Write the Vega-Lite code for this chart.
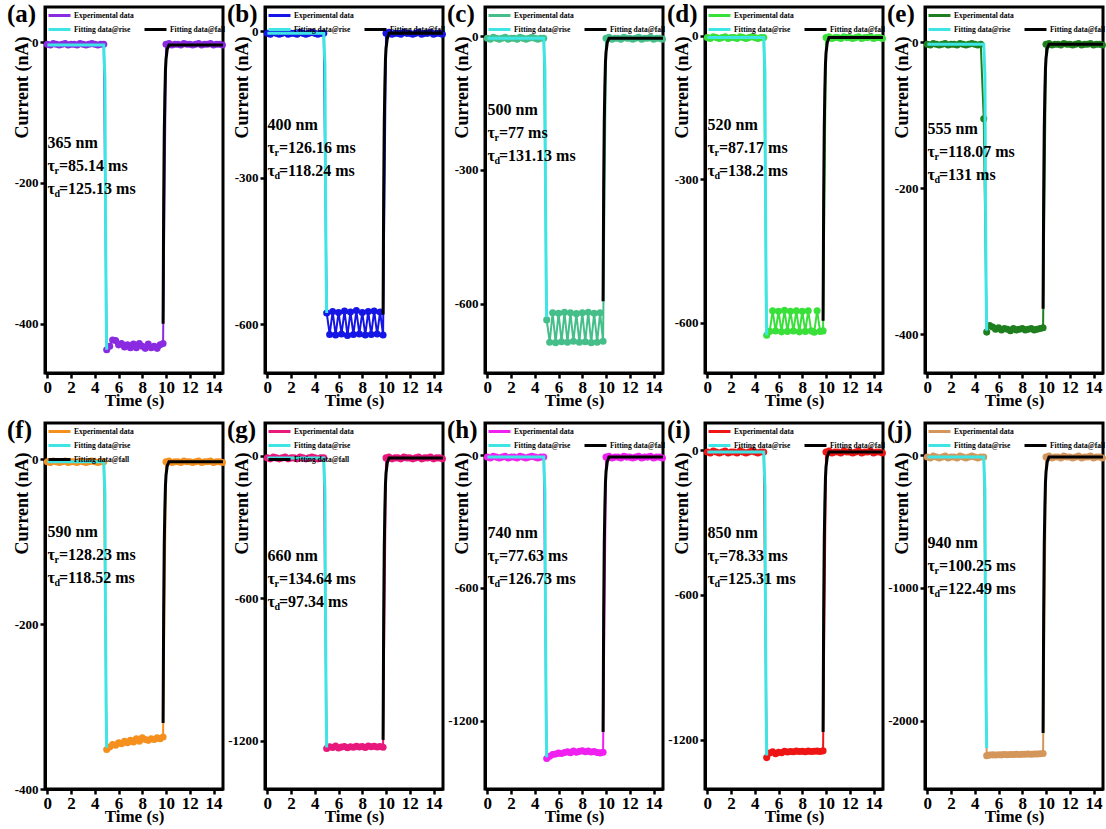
{
"$schema":"https://vega.github.io/schema/vega-lite/v6.json",
"background":"white",
"padding":{"left":5,"top":0,"right":0,"bottom":0},
"config":{
 "view":{"stroke":"black","strokeWidth":3},
 "font":"Liberation Serif",
 "axis":{"grid":false,"domainColor":"black","domainWidth":3,"tickColor":"black","tickWidth":2.5,"tickSize":5,"labelFont":"Liberation Serif","labelFontWeight":"bold","labelColor":"black","titleFont":"Liberation Serif","titleFontWeight":"bold","titleColor":"black"},
 "axisX":{"labelFontSize":17,"titleFontSize":17,"labelPadding":1,"titlePadding":-3,"labelFlush":false},
 "axisY":{"labelFontSize":13,"titleFontSize":18,"labelPadding":2,"titleX":-14,"titleY":80,"titleAngle":-90,"titleAlign":"center","titleBaseline":"bottom","labelExpr":"'' + datum.value"},
 "legend":{"orient":"none","legendX":9,"legendY":3,"padding":0,"gridAlign":"none","labelFont":"Liberation Serif","labelFontWeight":"bold","labelFontSize":7.5,"labelColor":"black","symbolType":"M-2.75,0H2.75","symbolSize":64,"symbolStrokeWidth":3,"rowPadding":1,"columnPadding":4,"labelOffset":9},
 "title":{"anchor":"start","frame":"group","font":"Liberation Serif","fontWeight":"bold","fontSize":25,"baseline":"top","offset":0,"dy":24,"dx":-38,"color":"black"},
 "line":{"strokeWidth":3},
 "point":{"filled":true,"size":50,"opacity":1},
 "text":{"font":"Liberation Serif","fontWeight":"bold","align":"left","baseline":"top","fill":"black","opacity":1}
},
"datasets":{
"exp":[
{"p":"a","t":0,"v":-3},{"p":"a","t":0.25,"v":-4},{"p":"a","t":0.5,"v":-2},{"p":"a","t":0.75,"v":-3},{"p":"a","t":1,"v":-4},{"p":"a","t":1.25,"v":-3},{"p":"a","t":1.5,"v":-2},{"p":"a","t":1.75,"v":-4},{"p":"a","t":2,"v":-3},{"p":"a","t":2.25,"v":-3},{"p":"a","t":2.5,"v":-4},{"p":"a","t":2.75,"v":-2},{"p":"a","t":3,"v":-3},{"p":"a","t":3.25,"v":-4},{"p":"a","t":3.5,"v":-3},{"p":"a","t":3.75,"v":-2},{"p":"a","t":4,"v":-3},{"p":"a","t":4.25,"v":-4},{"p":"a","t":4.5,"v":-3},{"p":"a","t":4.75,"v":-3},
{"p":"a","t":5,"v":-437},{"p":"a","t":5.25,"v":-432},{"p":"a","t":5.5,"v":-423},{"p":"a","t":5.75,"v":-424},{"p":"a","t":6,"v":-430},{"p":"a","t":6.25,"v":-428},{"p":"a","t":6.5,"v":-433},{"p":"a","t":6.75,"v":-430},{"p":"a","t":7,"v":-434},{"p":"a","t":7.25,"v":-429},{"p":"a","t":7.5,"v":-434},{"p":"a","t":7.75,"v":-428},{"p":"a","t":8,"v":-432},{"p":"a","t":8.25,"v":-435},{"p":"a","t":8.5,"v":-429},{"p":"a","t":8.75,"v":-434},{"p":"a","t":9,"v":-432},{"p":"a","t":9.25,"v":-435},{"p":"a","t":9.5,"v":-430},{"p":"a","t":9.75,"v":-428},
{"p":"a","t":10,"v":-3},{"p":"a","t":10.25,"v":-2},{"p":"a","t":10.5,"v":-4},{"p":"a","t":10.75,"v":-3},{"p":"a","t":11,"v":-3},{"p":"a","t":11.25,"v":-4},{"p":"a","t":11.5,"v":-2},{"p":"a","t":11.75,"v":-3},{"p":"a","t":12,"v":-3},{"p":"a","t":12.25,"v":-4},{"p":"a","t":12.5,"v":-3},{"p":"a","t":12.75,"v":-2},{"p":"a","t":13,"v":-4},{"p":"a","t":13.25,"v":-3},{"p":"a","t":13.5,"v":-3},{"p":"a","t":13.75,"v":-2},{"p":"a","t":14,"v":-4},{"p":"a","t":14.25,"v":-3},{"p":"a","t":14.5,"v":-3},{"p":"a","t":14.75,"v":-4},

{"p":"b","t":0,"v":-4},{"p":"b","t":0.25,"v":-6},{"p":"b","t":0.5,"v":-2},{"p":"b","t":0.75,"v":-4},{"p":"b","t":1,"v":-6},{"p":"b","t":1.25,"v":-4},{"p":"b","t":1.5,"v":-2},{"p":"b","t":1.75,"v":-6},{"p":"b","t":2,"v":-4},{"p":"b","t":2.25,"v":-4},{"p":"b","t":2.5,"v":-6},{"p":"b","t":2.75,"v":-2},{"p":"b","t":3,"v":-4},{"p":"b","t":3.25,"v":-6},{"p":"b","t":3.5,"v":-4},{"p":"b","t":3.75,"v":-2},{"p":"b","t":4,"v":-4},{"p":"b","t":4.25,"v":-6},{"p":"b","t":4.5,"v":-4},{"p":"b","t":4.75,"v":-4},
{"p":"b","t":5,"v":-577},{"p":"b","t":5.25,"v":-621},{"p":"b","t":5.5,"v":-574},{"p":"b","t":5.75,"v":-622},{"p":"b","t":6,"v":-576},{"p":"b","t":6.25,"v":-620},{"p":"b","t":6.5,"v":-573},{"p":"b","t":6.75,"v":-623},{"p":"b","t":7,"v":-575},{"p":"b","t":7.25,"v":-621},{"p":"b","t":7.5,"v":-572},{"p":"b","t":7.75,"v":-620},{"p":"b","t":8,"v":-576},{"p":"b","t":8.25,"v":-622},{"p":"b","t":8.5,"v":-574},{"p":"b","t":8.75,"v":-621},{"p":"b","t":9,"v":-573},{"p":"b","t":9.25,"v":-620},{"p":"b","t":9.5,"v":-575},{"p":"b","t":9.75,"v":-622},
{"p":"b","t":10,"v":-4},{"p":"b","t":10.25,"v":-2},{"p":"b","t":10.5,"v":-6},{"p":"b","t":10.75,"v":-4},{"p":"b","t":11,"v":-4},{"p":"b","t":11.25,"v":-6},{"p":"b","t":11.5,"v":-2},{"p":"b","t":11.75,"v":-4},{"p":"b","t":12,"v":-4},{"p":"b","t":12.25,"v":-6},{"p":"b","t":12.5,"v":-4},{"p":"b","t":12.75,"v":-2},{"p":"b","t":13,"v":-6},{"p":"b","t":13.25,"v":-4},{"p":"b","t":13.5,"v":-4},{"p":"b","t":13.75,"v":-2},{"p":"b","t":14,"v":-6},{"p":"b","t":14.25,"v":-4},{"p":"b","t":14.5,"v":-4},{"p":"b","t":14.75,"v":-6},

{"p":"c","t":0,"v":-5},{"p":"c","t":0.25,"v":-7},{"p":"c","t":0.5,"v":-3},{"p":"c","t":0.75,"v":-5},{"p":"c","t":1,"v":-7},{"p":"c","t":1.25,"v":-5},{"p":"c","t":1.5,"v":-3},{"p":"c","t":1.75,"v":-7},{"p":"c","t":2,"v":-5},{"p":"c","t":2.25,"v":-5},{"p":"c","t":2.5,"v":-7},{"p":"c","t":2.75,"v":-3},{"p":"c","t":3,"v":-5},{"p":"c","t":3.25,"v":-7},{"p":"c","t":3.5,"v":-5},{"p":"c","t":3.75,"v":-3},{"p":"c","t":4,"v":-5},{"p":"c","t":4.25,"v":-7},{"p":"c","t":4.5,"v":-5},{"p":"c","t":4.75,"v":-5},
{"p":"c","t":5,"v":-636},{"p":"c","t":5.25,"v":-686},{"p":"c","t":5.5,"v":-620},{"p":"c","t":5.75,"v":-687},{"p":"c","t":6,"v":-621},{"p":"c","t":6.25,"v":-685},{"p":"c","t":6.5,"v":-619},{"p":"c","t":6.75,"v":-686},{"p":"c","t":7,"v":-620},{"p":"c","t":7.25,"v":-684},{"p":"c","t":7.5,"v":-622},{"p":"c","t":7.75,"v":-686},{"p":"c","t":8,"v":-620},{"p":"c","t":8.25,"v":-685},{"p":"c","t":8.5,"v":-619},{"p":"c","t":8.75,"v":-687},{"p":"c","t":9,"v":-621},{"p":"c","t":9.25,"v":-686},{"p":"c","t":9.5,"v":-620},{"p":"c","t":9.75,"v":-684},
{"p":"c","t":10,"v":-5},{"p":"c","t":10.25,"v":-3},{"p":"c","t":10.5,"v":-7},{"p":"c","t":10.75,"v":-5},{"p":"c","t":11,"v":-5},{"p":"c","t":11.25,"v":-7},{"p":"c","t":11.5,"v":-3},{"p":"c","t":11.75,"v":-5},{"p":"c","t":12,"v":-5},{"p":"c","t":12.25,"v":-7},{"p":"c","t":12.5,"v":-5},{"p":"c","t":12.75,"v":-3},{"p":"c","t":13,"v":-7},{"p":"c","t":13.25,"v":-5},{"p":"c","t":13.5,"v":-5},{"p":"c","t":13.75,"v":-3},{"p":"c","t":14,"v":-7},{"p":"c","t":14.25,"v":-5},{"p":"c","t":14.5,"v":-5},{"p":"c","t":14.75,"v":-7},

{"p":"d","t":0,"v":-4},{"p":"d","t":0.25,"v":-6},{"p":"d","t":0.5,"v":-2},{"p":"d","t":0.75,"v":-4},{"p":"d","t":1,"v":-6},{"p":"d","t":1.25,"v":-4},{"p":"d","t":1.5,"v":-2},{"p":"d","t":1.75,"v":-6},{"p":"d","t":2,"v":-4},{"p":"d","t":2.25,"v":-4},{"p":"d","t":2.5,"v":-6},{"p":"d","t":2.75,"v":-2},{"p":"d","t":3,"v":-4},{"p":"d","t":3.25,"v":-6},{"p":"d","t":3.5,"v":-4},{"p":"d","t":3.75,"v":-2},{"p":"d","t":4,"v":-4},{"p":"d","t":4.25,"v":-6},{"p":"d","t":4.5,"v":-4},{"p":"d","t":4.75,"v":-4},
{"p":"d","t":5,"v":-626},{"p":"d","t":5.25,"v":-618},{"p":"d","t":5.5,"v":-575},{"p":"d","t":5.75,"v":-617},{"p":"d","t":6,"v":-576},{"p":"d","t":6.25,"v":-619},{"p":"d","t":6.5,"v":-574},{"p":"d","t":6.75,"v":-618},{"p":"d","t":7,"v":-576},{"p":"d","t":7.25,"v":-617},{"p":"d","t":7.5,"v":-575},{"p":"d","t":7.75,"v":-619},{"p":"d","t":8,"v":-576},{"p":"d","t":8.25,"v":-618},{"p":"d","t":8.5,"v":-575},{"p":"d","t":8.75,"v":-617},{"p":"d","t":9,"v":-620},{"p":"d","t":9.25,"v":-575},{"p":"d","t":9.5,"v":-618},{"p":"d","t":9.75,"v":-617},
{"p":"d","t":10,"v":-4},{"p":"d","t":10.25,"v":-2},{"p":"d","t":10.5,"v":-6},{"p":"d","t":10.75,"v":-4},{"p":"d","t":11,"v":-4},{"p":"d","t":11.25,"v":-6},{"p":"d","t":11.5,"v":-2},{"p":"d","t":11.75,"v":-4},{"p":"d","t":12,"v":-4},{"p":"d","t":12.25,"v":-6},{"p":"d","t":12.5,"v":-4},{"p":"d","t":12.75,"v":-2},{"p":"d","t":13,"v":-6},{"p":"d","t":13.25,"v":-4},{"p":"d","t":13.5,"v":-4},{"p":"d","t":13.75,"v":-2},{"p":"d","t":14,"v":-6},{"p":"d","t":14.25,"v":-4},{"p":"d","t":14.5,"v":-4},{"p":"d","t":14.75,"v":-6},

{"p":"e","t":0,"v":-3},{"p":"e","t":0.25,"v":-4},{"p":"e","t":0.5,"v":-2},{"p":"e","t":0.75,"v":-3},{"p":"e","t":1,"v":-4},{"p":"e","t":1.25,"v":-3},{"p":"e","t":1.5,"v":-2},{"p":"e","t":1.75,"v":-4},{"p":"e","t":2,"v":-3},{"p":"e","t":2.25,"v":-3},{"p":"e","t":2.5,"v":-4},{"p":"e","t":2.75,"v":-2},{"p":"e","t":3,"v":-3},{"p":"e","t":3.25,"v":-4},{"p":"e","t":3.5,"v":-3},{"p":"e","t":3.75,"v":-2},{"p":"e","t":4,"v":-3},{"p":"e","t":4.25,"v":-4},{"p":"e","t":4.5,"v":-3},{"p":"e","t":4.75,"v":-105},
{"p":"e","t":5,"v":-397},{"p":"e","t":5.25,"v":-388},{"p":"e","t":5.5,"v":-390},{"p":"e","t":5.75,"v":-393},{"p":"e","t":6,"v":-391},{"p":"e","t":6.25,"v":-394},{"p":"e","t":6.5,"v":-392},{"p":"e","t":6.75,"v":-393},{"p":"e","t":7,"v":-395},{"p":"e","t":7.25,"v":-392},{"p":"e","t":7.5,"v":-394},{"p":"e","t":7.75,"v":-393},{"p":"e","t":8,"v":-392},{"p":"e","t":8.25,"v":-394},{"p":"e","t":8.5,"v":-393},{"p":"e","t":8.75,"v":-392},{"p":"e","t":9,"v":-394},{"p":"e","t":9.25,"v":-393},{"p":"e","t":9.5,"v":-392},{"p":"e","t":9.75,"v":-391},
{"p":"e","t":10,"v":-3},{"p":"e","t":10.25,"v":-2},{"p":"e","t":10.5,"v":-4},{"p":"e","t":10.75,"v":-3},{"p":"e","t":11,"v":-3},{"p":"e","t":11.25,"v":-4},{"p":"e","t":11.5,"v":-2},{"p":"e","t":11.75,"v":-3},{"p":"e","t":12,"v":-3},{"p":"e","t":12.25,"v":-4},{"p":"e","t":12.5,"v":-3},{"p":"e","t":12.75,"v":-2},{"p":"e","t":13,"v":-4},{"p":"e","t":13.25,"v":-3},{"p":"e","t":13.5,"v":-3},{"p":"e","t":13.75,"v":-2},{"p":"e","t":14,"v":-4},{"p":"e","t":14.25,"v":-3},{"p":"e","t":14.5,"v":-3},{"p":"e","t":14.75,"v":-4},

{"p":"f","t":0,"v":-3},{"p":"f","t":0.25,"v":-4},{"p":"f","t":0.5,"v":-2},{"p":"f","t":0.75,"v":-3},{"p":"f","t":1,"v":-4},{"p":"f","t":1.25,"v":-3},{"p":"f","t":1.5,"v":-2},{"p":"f","t":1.75,"v":-4},{"p":"f","t":2,"v":-3},{"p":"f","t":2.25,"v":-3},{"p":"f","t":2.5,"v":-4},{"p":"f","t":2.75,"v":-2},{"p":"f","t":3,"v":-3},{"p":"f","t":3.25,"v":-4},{"p":"f","t":3.5,"v":-3},{"p":"f","t":3.75,"v":-2},{"p":"f","t":4,"v":-3},{"p":"f","t":4.25,"v":-4},{"p":"f","t":4.5,"v":-3},{"p":"f","t":4.75,"v":-3},
{"p":"f","t":5,"v":-352},{"p":"f","t":5.25,"v":-349},{"p":"f","t":5.5,"v":-346},{"p":"f","t":5.75,"v":-347},{"p":"f","t":6,"v":-344},{"p":"f","t":6.25,"v":-345},{"p":"f","t":6.5,"v":-342},{"p":"f","t":6.75,"v":-344},{"p":"f","t":7,"v":-341},{"p":"f","t":7.25,"v":-343},{"p":"f","t":7.5,"v":-339},{"p":"f","t":7.75,"v":-342},{"p":"f","t":8,"v":-338},{"p":"f","t":8.25,"v":-340},{"p":"f","t":8.5,"v":-341},{"p":"f","t":8.75,"v":-339},{"p":"f","t":9,"v":-340},{"p":"f","t":9.25,"v":-338},{"p":"f","t":9.5,"v":-339},{"p":"f","t":9.75,"v":-337},
{"p":"f","t":10,"v":-3},{"p":"f","t":10.25,"v":-2},{"p":"f","t":10.5,"v":-4},{"p":"f","t":10.75,"v":-3},{"p":"f","t":11,"v":-3},{"p":"f","t":11.25,"v":-4},{"p":"f","t":11.5,"v":-2},{"p":"f","t":11.75,"v":-3},{"p":"f","t":12,"v":-3},{"p":"f","t":12.25,"v":-4},{"p":"f","t":12.5,"v":-3},{"p":"f","t":12.75,"v":-2},{"p":"f","t":13,"v":-4},{"p":"f","t":13.25,"v":-3},{"p":"f","t":13.5,"v":-3},{"p":"f","t":13.75,"v":-2},{"p":"f","t":14,"v":-4},{"p":"f","t":14.25,"v":-3},{"p":"f","t":14.5,"v":-3},{"p":"f","t":14.75,"v":-4},

{"p":"g","t":0,"v":-8},{"p":"g","t":0.25,"v":-12},{"p":"g","t":0.5,"v":-4},{"p":"g","t":0.75,"v":-8},{"p":"g","t":1,"v":-12},{"p":"g","t":1.25,"v":-8},{"p":"g","t":1.5,"v":-4},{"p":"g","t":1.75,"v":-12},{"p":"g","t":2,"v":-8},{"p":"g","t":2.25,"v":-8},{"p":"g","t":2.5,"v":-12},{"p":"g","t":2.75,"v":-4},{"p":"g","t":3,"v":-8},{"p":"g","t":3.25,"v":-12},{"p":"g","t":3.5,"v":-8},{"p":"g","t":3.75,"v":-4},{"p":"g","t":4,"v":-8},{"p":"g","t":4.25,"v":-12},{"p":"g","t":4.5,"v":-8},{"p":"g","t":4.75,"v":-8},
{"p":"g","t":5,"v":-1232},{"p":"g","t":5.25,"v":-1225},{"p":"g","t":5.5,"v":-1228},{"p":"g","t":5.75,"v":-1222},{"p":"g","t":6,"v":-1230},{"p":"g","t":6.25,"v":-1226},{"p":"g","t":6.5,"v":-1224},{"p":"g","t":6.75,"v":-1229},{"p":"g","t":7,"v":-1225},{"p":"g","t":7.25,"v":-1227},{"p":"g","t":7.5,"v":-1223},{"p":"g","t":7.75,"v":-1226},{"p":"g","t":8,"v":-1224},{"p":"g","t":8.25,"v":-1228},{"p":"g","t":8.5,"v":-1222},{"p":"g","t":8.75,"v":-1225},{"p":"g","t":9,"v":-1223},{"p":"g","t":9.25,"v":-1226},{"p":"g","t":9.5,"v":-1224},{"p":"g","t":9.75,"v":-1227},
{"p":"g","t":10,"v":-8},{"p":"g","t":10.25,"v":-4},{"p":"g","t":10.5,"v":-12},{"p":"g","t":10.75,"v":-8},{"p":"g","t":11,"v":-8},{"p":"g","t":11.25,"v":-12},{"p":"g","t":11.5,"v":-4},{"p":"g","t":11.75,"v":-8},{"p":"g","t":12,"v":-8},{"p":"g","t":12.25,"v":-12},{"p":"g","t":12.5,"v":-8},{"p":"g","t":12.75,"v":-4},{"p":"g","t":13,"v":-12},{"p":"g","t":13.25,"v":-8},{"p":"g","t":13.5,"v":-8},{"p":"g","t":13.75,"v":-4},{"p":"g","t":14,"v":-12},{"p":"g","t":14.25,"v":-8},{"p":"g","t":14.5,"v":-8},{"p":"g","t":14.75,"v":-12},

{"p":"h","t":0,"v":-9},{"p":"h","t":0.25,"v":-13},{"p":"h","t":0.5,"v":-5},{"p":"h","t":0.75,"v":-9},{"p":"h","t":1,"v":-13},{"p":"h","t":1.25,"v":-9},{"p":"h","t":1.5,"v":-5},{"p":"h","t":1.75,"v":-13},{"p":"h","t":2,"v":-9},{"p":"h","t":2.25,"v":-9},{"p":"h","t":2.5,"v":-13},{"p":"h","t":2.75,"v":-5},{"p":"h","t":3,"v":-9},{"p":"h","t":3.25,"v":-13},{"p":"h","t":3.5,"v":-9},{"p":"h","t":3.75,"v":-5},{"p":"h","t":4,"v":-9},{"p":"h","t":4.25,"v":-13},{"p":"h","t":4.5,"v":-9},{"p":"h","t":4.75,"v":-9},
{"p":"h","t":5,"v":-1370},{"p":"h","t":5.25,"v":-1360},{"p":"h","t":5.5,"v":-1352},{"p":"h","t":5.75,"v":-1350},{"p":"h","t":6,"v":-1346},{"p":"h","t":6.25,"v":-1348},{"p":"h","t":6.5,"v":-1343},{"p":"h","t":6.75,"v":-1340},{"p":"h","t":7,"v":-1344},{"p":"h","t":7.25,"v":-1336},{"p":"h","t":7.5,"v":-1342},{"p":"h","t":7.75,"v":-1338},{"p":"h","t":8,"v":-1335},{"p":"h","t":8.25,"v":-1340},{"p":"h","t":8.5,"v":-1337},{"p":"h","t":8.75,"v":-1341},{"p":"h","t":9,"v":-1339},{"p":"h","t":9.25,"v":-1343},{"p":"h","t":9.5,"v":-1345},{"p":"h","t":9.75,"v":-1342},
{"p":"h","t":10,"v":-9},{"p":"h","t":10.25,"v":-5},{"p":"h","t":10.5,"v":-13},{"p":"h","t":10.75,"v":-9},{"p":"h","t":11,"v":-9},{"p":"h","t":11.25,"v":-13},{"p":"h","t":11.5,"v":-5},{"p":"h","t":11.75,"v":-9},{"p":"h","t":12,"v":-9},{"p":"h","t":12.25,"v":-13},{"p":"h","t":12.5,"v":-9},{"p":"h","t":12.75,"v":-5},{"p":"h","t":13,"v":-13},{"p":"h","t":13.25,"v":-9},{"p":"h","t":13.5,"v":-9},{"p":"h","t":13.75,"v":-5},{"p":"h","t":14,"v":-13},{"p":"h","t":14.25,"v":-9},{"p":"h","t":14.5,"v":-9},{"p":"h","t":14.75,"v":-13},

{"p":"i","t":0,"v":-8},{"p":"i","t":0.25,"v":-12},{"p":"i","t":0.5,"v":-4},{"p":"i","t":0.75,"v":-8},{"p":"i","t":1,"v":-12},{"p":"i","t":1.25,"v":-8},{"p":"i","t":1.5,"v":-4},{"p":"i","t":1.75,"v":-12},{"p":"i","t":2,"v":-8},{"p":"i","t":2.25,"v":-8},{"p":"i","t":2.5,"v":-12},{"p":"i","t":2.75,"v":-4},{"p":"i","t":3,"v":-8},{"p":"i","t":3.25,"v":-12},{"p":"i","t":3.5,"v":-8},{"p":"i","t":3.75,"v":-4},{"p":"i","t":4,"v":-8},{"p":"i","t":4.25,"v":-12},{"p":"i","t":4.5,"v":-8},{"p":"i","t":4.75,"v":-8},
{"p":"i","t":5,"v":-1274},{"p":"i","t":5.25,"v":-1255},{"p":"i","t":5.5,"v":-1250},{"p":"i","t":5.75,"v":-1258},{"p":"i","t":6,"v":-1252},{"p":"i","t":6.25,"v":-1254},{"p":"i","t":6.5,"v":-1248},{"p":"i","t":6.75,"v":-1251},{"p":"i","t":7,"v":-1249},{"p":"i","t":7.25,"v":-1250},{"p":"i","t":7.5,"v":-1247},{"p":"i","t":7.75,"v":-1249},{"p":"i","t":8,"v":-1248},{"p":"i","t":8.25,"v":-1250},{"p":"i","t":8.5,"v":-1247},{"p":"i","t":8.75,"v":-1249},{"p":"i","t":9,"v":-1248},{"p":"i","t":9.25,"v":-1247},{"p":"i","t":9.5,"v":-1249},{"p":"i","t":9.75,"v":-1246},
{"p":"i","t":10,"v":-8},{"p":"i","t":10.25,"v":-4},{"p":"i","t":10.5,"v":-12},{"p":"i","t":10.75,"v":-8},{"p":"i","t":11,"v":-8},{"p":"i","t":11.25,"v":-12},{"p":"i","t":11.5,"v":-4},{"p":"i","t":11.75,"v":-8},{"p":"i","t":12,"v":-8},{"p":"i","t":12.25,"v":-12},{"p":"i","t":12.5,"v":-8},{"p":"i","t":12.75,"v":-4},{"p":"i","t":13,"v":-12},{"p":"i","t":13.25,"v":-8},{"p":"i","t":13.5,"v":-8},{"p":"i","t":13.75,"v":-4},{"p":"i","t":14,"v":-12},{"p":"i","t":14.25,"v":-8},{"p":"i","t":14.5,"v":-8},{"p":"i","t":14.75,"v":-12},

{"p":"j","t":0,"v":-15},{"p":"j","t":0.25,"v":-22},{"p":"j","t":0.5,"v":-8},{"p":"j","t":0.75,"v":-15},{"p":"j","t":1,"v":-22},{"p":"j","t":1.25,"v":-15},{"p":"j","t":1.5,"v":-8},{"p":"j","t":1.75,"v":-22},{"p":"j","t":2,"v":-15},{"p":"j","t":2.25,"v":-15},{"p":"j","t":2.5,"v":-22},{"p":"j","t":2.75,"v":-8},{"p":"j","t":3,"v":-15},{"p":"j","t":3.25,"v":-22},{"p":"j","t":3.5,"v":-15},{"p":"j","t":3.75,"v":-8},{"p":"j","t":4,"v":-15},{"p":"j","t":4.25,"v":-22},{"p":"j","t":4.5,"v":-15},{"p":"j","t":4.75,"v":-15},
{"p":"j","t":5,"v":-2262},{"p":"j","t":5.25,"v":-2258},{"p":"j","t":5.5,"v":-2256},{"p":"j","t":5.75,"v":-2257},{"p":"j","t":6,"v":-2255},{"p":"j","t":6.25,"v":-2256},{"p":"j","t":6.5,"v":-2254},{"p":"j","t":6.75,"v":-2255},{"p":"j","t":7,"v":-2253},{"p":"j","t":7.25,"v":-2254},{"p":"j","t":7.5,"v":-2252},{"p":"j","t":7.75,"v":-2253},{"p":"j","t":8,"v":-2251},{"p":"j","t":8.25,"v":-2252},{"p":"j","t":8.5,"v":-2250},{"p":"j","t":8.75,"v":-2251},{"p":"j","t":9,"v":-2249},{"p":"j","t":9.25,"v":-2250},{"p":"j","t":9.5,"v":-2248},{"p":"j","t":9.75,"v":-2246},
{"p":"j","t":10,"v":-15},{"p":"j","t":10.25,"v":-8},{"p":"j","t":10.5,"v":-22},{"p":"j","t":10.75,"v":-15},{"p":"j","t":11,"v":-15},{"p":"j","t":11.25,"v":-22},{"p":"j","t":11.5,"v":-8},{"p":"j","t":11.75,"v":-15},{"p":"j","t":12,"v":-15},{"p":"j","t":12.25,"v":-22},{"p":"j","t":12.5,"v":-15},{"p":"j","t":12.75,"v":-8},{"p":"j","t":13,"v":-22},{"p":"j","t":13.25,"v":-15},{"p":"j","t":13.5,"v":-15},{"p":"j","t":13.75,"v":-8},{"p":"j","t":14,"v":-22},{"p":"j","t":14.25,"v":-15},{"p":"j","t":14.5,"v":-15},{"p":"j","t":14.75,"v":-22}
],
"fit":[
{"p":"a","s":"Fitting data@rise","t":0,"v":-4},{"p":"a","s":"Fitting data@rise","t":4.75,"v":-4},{"p":"a","s":"Fitting data@rise","t":4.85,"v":-52},{"p":"a","s":"Fitting data@rise","t":4.9,"v":-240},{"p":"a","s":"Fitting data@rise","t":4.95,"v":-371},{"p":"a","s":"Fitting data@rise","t":5,"v":-437},
{"p":"a","s":"Fitting data@fall","t":9.75,"v":-400},{"p":"a","s":"Fitting data@fall","t":9.8,"v":-228},{"p":"a","s":"Fitting data@fall","t":9.85,"v":-128},{"p":"a","s":"Fitting data@fall","t":9.9,"v":-76},{"p":"a","s":"Fitting data@fall","t":9.95,"v":-40},{"p":"a","s":"Fitting data@fall","t":10,"v":-24},{"p":"a","s":"Fitting data@fall","t":10.1,"v":-10},{"p":"a","s":"Fitting data@fall","t":10.25,"v":-4},{"p":"a","s":"Fitting data@fall","t":14.8,"v":-4},
{"p":"b","s":"Fitting data@rise","t":0,"v":-4},{"p":"b","s":"Fitting data@rise","t":4.75,"v":-4},{"p":"b","s":"Fitting data@rise","t":4.85,"v":-69},{"p":"b","s":"Fitting data@rise","t":4.9,"v":-317},{"p":"b","s":"Fitting data@rise","t":4.95,"v":-490},{"p":"b","s":"Fitting data@rise","t":5,"v":-577},
{"p":"b","s":"Fitting data@fall","t":9.75,"v":-580},{"p":"b","s":"Fitting data@fall","t":9.8,"v":-331},{"p":"b","s":"Fitting data@fall","t":9.85,"v":-186},{"p":"b","s":"Fitting data@fall","t":9.9,"v":-110},{"p":"b","s":"Fitting data@fall","t":9.95,"v":-58},{"p":"b","s":"Fitting data@fall","t":10,"v":-35},{"p":"b","s":"Fitting data@fall","t":10.1,"v":-15},{"p":"b","s":"Fitting data@fall","t":10.25,"v":-4},{"p":"b","s":"Fitting data@fall","t":14.8,"v":-4},
{"p":"c","s":"Fitting data@rise","t":0,"v":-5},{"p":"c","s":"Fitting data@rise","t":4.75,"v":-5},{"p":"c","s":"Fitting data@rise","t":4.85,"v":-76},{"p":"c","s":"Fitting data@rise","t":4.9,"v":-347},{"p":"c","s":"Fitting data@rise","t":4.95,"v":-536},{"p":"c","s":"Fitting data@rise","t":5,"v":-630},
{"p":"c","s":"Fitting data@fall","t":9.75,"v":-594},{"p":"c","s":"Fitting data@fall","t":9.8,"v":-339},{"p":"c","s":"Fitting data@fall","t":9.85,"v":-190},{"p":"c","s":"Fitting data@fall","t":9.9,"v":-113},{"p":"c","s":"Fitting data@fall","t":9.95,"v":-59},{"p":"c","s":"Fitting data@fall","t":10,"v":-36},{"p":"c","s":"Fitting data@fall","t":10.1,"v":-15},{"p":"c","s":"Fitting data@fall","t":10.25,"v":-5},{"p":"c","s":"Fitting data@fall","t":14.8,"v":-5},
{"p":"d","s":"Fitting data@rise","t":0,"v":-4},{"p":"d","s":"Fitting data@rise","t":4.75,"v":-4},{"p":"d","s":"Fitting data@rise","t":4.85,"v":-75},{"p":"d","s":"Fitting data@rise","t":4.9,"v":-344},{"p":"d","s":"Fitting data@rise","t":4.95,"v":-532},{"p":"d","s":"Fitting data@rise","t":5,"v":-626},
{"p":"d","s":"Fitting data@fall","t":9.75,"v":-596},{"p":"d","s":"Fitting data@fall","t":9.8,"v":-340},{"p":"d","s":"Fitting data@fall","t":9.85,"v":-191},{"p":"d","s":"Fitting data@fall","t":9.9,"v":-113},{"p":"d","s":"Fitting data@fall","t":9.95,"v":-60},{"p":"d","s":"Fitting data@fall","t":10,"v":-36},{"p":"d","s":"Fitting data@fall","t":10.1,"v":-15},{"p":"d","s":"Fitting data@fall","t":10.25,"v":-4},{"p":"d","s":"Fitting data@fall","t":14.8,"v":-4},
{"p":"e","s":"Fitting data@rise","t":0,"v":-3},{"p":"e","s":"Fitting data@rise","t":4.75,"v":-3},{"p":"e","s":"Fitting data@rise","t":4.85,"v":-47},{"p":"e","s":"Fitting data@rise","t":4.9,"v":-217},{"p":"e","s":"Fitting data@rise","t":4.95,"v":-336},{"p":"e","s":"Fitting data@rise","t":5,"v":-395},
{"p":"e","s":"Fitting data@fall","t":9.75,"v":-365},{"p":"e","s":"Fitting data@fall","t":9.8,"v":-208},{"p":"e","s":"Fitting data@fall","t":9.85,"v":-117},{"p":"e","s":"Fitting data@fall","t":9.9,"v":-69},{"p":"e","s":"Fitting data@fall","t":9.95,"v":-37},{"p":"e","s":"Fitting data@fall","t":10,"v":-22},{"p":"e","s":"Fitting data@fall","t":10.1,"v":-9},{"p":"e","s":"Fitting data@fall","t":10.25,"v":-3},{"p":"e","s":"Fitting data@fall","t":14.8,"v":-3},
{"p":"f","s":"Fitting data@rise","t":0,"v":-3},{"p":"f","s":"Fitting data@rise","t":4.75,"v":-3},{"p":"f","s":"Fitting data@rise","t":4.85,"v":-42},{"p":"f","s":"Fitting data@rise","t":4.9,"v":-193},{"p":"f","s":"Fitting data@rise","t":4.95,"v":-298},{"p":"f","s":"Fitting data@rise","t":5,"v":-350},
{"p":"f","s":"Fitting data@fall","t":9.75,"v":-320},{"p":"f","s":"Fitting data@fall","t":9.8,"v":-182},{"p":"f","s":"Fitting data@fall","t":9.85,"v":-102},{"p":"f","s":"Fitting data@fall","t":9.9,"v":-61},{"p":"f","s":"Fitting data@fall","t":9.95,"v":-32},{"p":"f","s":"Fitting data@fall","t":10,"v":-19},{"p":"f","s":"Fitting data@fall","t":10.1,"v":-8},{"p":"f","s":"Fitting data@fall","t":10.25,"v":-3},{"p":"f","s":"Fitting data@fall","t":14.8,"v":-3},
{"p":"g","s":"Fitting data@rise","t":0,"v":-8},{"p":"g","s":"Fitting data@rise","t":4.75,"v":-8},{"p":"g","s":"Fitting data@rise","t":4.85,"v":-147},{"p":"g","s":"Fitting data@rise","t":4.9,"v":-675},{"p":"g","s":"Fitting data@rise","t":4.95,"v":-1044},{"p":"g","s":"Fitting data@rise","t":5,"v":-1228},
{"p":"g","s":"Fitting data@fall","t":9.75,"v":-1196},{"p":"g","s":"Fitting data@fall","t":9.8,"v":-682},{"p":"g","s":"Fitting data@fall","t":9.85,"v":-383},{"p":"g","s":"Fitting data@fall","t":9.9,"v":-227},{"p":"g","s":"Fitting data@fall","t":9.95,"v":-120},{"p":"g","s":"Fitting data@fall","t":10,"v":-72},{"p":"g","s":"Fitting data@fall","t":10.1,"v":-30},{"p":"g","s":"Fitting data@fall","t":10.25,"v":-8},{"p":"g","s":"Fitting data@fall","t":14.8,"v":-8},
{"p":"h","s":"Fitting data@rise","t":0,"v":-9},{"p":"h","s":"Fitting data@rise","t":4.75,"v":-9},{"p":"h","s":"Fitting data@rise","t":4.85,"v":-164},{"p":"h","s":"Fitting data@rise","t":4.9,"v":-751},{"p":"h","s":"Fitting data@rise","t":4.95,"v":-1160},{"p":"h","s":"Fitting data@rise","t":5,"v":-1365},
{"p":"h","s":"Fitting data@fall","t":9.75,"v":-1251},{"p":"h","s":"Fitting data@fall","t":9.8,"v":-713},{"p":"h","s":"Fitting data@fall","t":9.85,"v":-400},{"p":"h","s":"Fitting data@fall","t":9.9,"v":-238},{"p":"h","s":"Fitting data@fall","t":9.95,"v":-125},{"p":"h","s":"Fitting data@fall","t":10,"v":-75},{"p":"h","s":"Fitting data@fall","t":10.1,"v":-31},{"p":"h","s":"Fitting data@fall","t":10.25,"v":-9},{"p":"h","s":"Fitting data@fall","t":14.8,"v":-9},
{"p":"i","s":"Fitting data@rise","t":0,"v":-8},{"p":"i","s":"Fitting data@rise","t":4.75,"v":-8},{"p":"i","s":"Fitting data@rise","t":4.85,"v":-152},{"p":"i","s":"Fitting data@rise","t":4.9,"v":-696},{"p":"i","s":"Fitting data@rise","t":4.95,"v":-1075},{"p":"i","s":"Fitting data@rise","t":5,"v":-1265},
{"p":"i","s":"Fitting data@fall","t":9.75,"v":-1168},{"p":"i","s":"Fitting data@fall","t":9.8,"v":-666},{"p":"i","s":"Fitting data@fall","t":9.85,"v":-374},{"p":"i","s":"Fitting data@fall","t":9.9,"v":-222},{"p":"i","s":"Fitting data@fall","t":9.95,"v":-117},{"p":"i","s":"Fitting data@fall","t":10,"v":-70},{"p":"i","s":"Fitting data@fall","t":10.1,"v":-29},{"p":"i","s":"Fitting data@fall","t":10.25,"v":-8},{"p":"i","s":"Fitting data@fall","t":14.8,"v":-8},
{"p":"j","s":"Fitting data@rise","t":0,"v":-15},{"p":"j","s":"Fitting data@rise","t":4.75,"v":-15},{"p":"j","s":"Fitting data@rise","t":4.85,"v":-265},{"p":"j","s":"Fitting data@rise","t":4.9,"v":-1213},{"p":"j","s":"Fitting data@rise","t":4.95,"v":-1874},{"p":"j","s":"Fitting data@rise","t":5,"v":-2205},
{"p":"j","s":"Fitting data@fall","t":9.75,"v":-2092},{"p":"j","s":"Fitting data@fall","t":9.8,"v":-1192},{"p":"j","s":"Fitting data@fall","t":9.85,"v":-669},{"p":"j","s":"Fitting data@fall","t":9.9,"v":-397},{"p":"j","s":"Fitting data@fall","t":9.95,"v":-209},{"p":"j","s":"Fitting data@fall","t":10,"v":-126},{"p":"j","s":"Fitting data@fall","t":10.1,"v":-52},{"p":"j","s":"Fitting data@fall","t":10.25,"v":-15},{"p":"j","s":"Fitting data@fall","t":14.8,"v":-15}
],
"ann":[
{"p":"a","t":0.02,"v":-132,"l1":"365 nm","l2":"τ  =85.14 ms","l3":"τ  =125.13 ms"},
{"p":"b","t":0.02,"v":-175,"l1":"400 nm","l2":"τ  =126.16 ms","l3":"τ  =118.24 ms"},
{"p":"c","t":0.02,"v":-148,"l1":"500 nm","l2":"τ  =77 ms","l3":"τ  =131.13 ms"},
{"p":"d","t":0.02,"v":-170,"l1":"520 nm","l2":"τ  =87.17 ms","l3":"τ  =138.2 ms"},
{"p":"e","t":0.02,"v":-108,"l1":"555 nm","l2":"τ  =118.07 ms","l3":"τ  =131 ms"},
{"p":"f","t":0.02,"v":-79,"l1":"590 nm","l2":"τ  =128.23 ms","l3":"τ  =118.52 ms"},
{"p":"g","t":0.02,"v":-388,"l1":"660 nm","l2":"τ  =134.64 ms","l3":"τ  =97.34 ms"},
{"p":"h","t":0.02,"v":-316,"l1":"740 nm","l2":"τ  =77.63 ms","l3":"τ  =126.73 ms"},
{"p":"i","t":0.02,"v":-311,"l1":"850 nm","l2":"τ  =78.33 ms","l3":"τ  =125.31 ms"},
{"p":"j","t":0.02,"v":-602,"l1":"940 nm","l2":"τ  =100.25 ms","l3":"τ  =122.49 ms"}
]
},
"columns":5,
"spacing":{"row":6,"column":-6},
"resolve":{"scale":{"x":"independent","y":"independent","color":"independent"},"axis":{"x":"independent","y":"independent"},"legend":{"color":"independent"}},
"concat":[
{"title":"(a)","width":178,"height":366,
 "encoding":{"x":{"field":"t","type":"quantitative","scale":{"domain":[-0.2,14.8],"nice":false,"zero":false},"axis":{"values":[0,2,4,6,8,10,12,14],"title":"Time (s)"}},"y":{"field":"v","type":"quantitative","scale":{"domain":[-470,50],"nice":false,"zero":false},"axis":{"values":[0,-200,-400],"title":"Current (nA)"}}},
 "layer":[
  {"data":{"name":"exp"},"transform":[{"filter":"datum.p=='a'"}],"mark":{"type":"line","strokeWidth":2},"encoding":{"color":{"datum":"Experimental data","scale":{"domain":["Experimental data","Fitting data@rise"," ","Fitting data@fall"],"range":["#8A2BE2","#3EE5E5","transparent","#000000"]},"legend":{"title":null,"columns":2,"encode":{"symbols":{"update":{"shape":{"signal":"datum.value === 'Experimental data' ? 'M-2.75,0H-2.1M-1.75,0H-1.1M1.1,0H1.75M2.1,0H2.75M0.9,0A0.9,0.9,0,1,1,-0.9,0A0.9,0.9,0,1,1,0.9,0Z' : 'M-2.75,0H2.75'"}}}}}}}},
  {"data":{"name":"exp"},"transform":[{"filter":"datum.p=='a'"}],"mark":{"type":"point"},"encoding":{"color":{"datum":"Experimental data"}}},
  {"data":{"name":"fit"},"transform":[{"filter":"datum.p=='a'"}],"mark":{"type":"line"},"encoding":{"color":{"field":"s","type":"nominal","title":null}}},
  {"data":{"name":"ann"},"transform":[{"filter":"datum.p=='a'"}],"layer":[
   {"mark":{"type":"text","fontSize":16},"encoding":{"text":{"field":"l1","type":"nominal"}}},
   {"mark":{"type":"text","fontSize":16,"dy":23},"encoding":{"text":{"field":"l2","type":"nominal"}}},
   {"mark":{"type":"text","fontSize":16,"dy":46},"encoding":{"text":{"field":"l3","type":"nominal"}}},
   {"mark":{"type":"text","fontSize":10,"dx":7,"dy":31},"encoding":{"text":{"value":"r"}}},
   {"mark":{"type":"text","fontSize":10,"dx":7,"dy":54},"encoding":{"text":{"value":"d"}}}]}
 ]},
{"title":"(b)","width":178,"height":366,
 "encoding":{"x":{"field":"t","type":"quantitative","scale":{"domain":[-0.2,14.8],"nice":false,"zero":false},"axis":{"values":[0,2,4,6,8,10,12,14],"title":"Time (s)"}},"y":{"field":"v","type":"quantitative","scale":{"domain":[-700,50],"nice":false,"zero":false},"axis":{"values":[0,-300,-600],"title":"Current (nA)"}}},
 "layer":[
  {"data":{"name":"exp"},"transform":[{"filter":"datum.p=='b'"}],"mark":{"type":"line","strokeWidth":2},"encoding":{"color":{"datum":"Experimental data","scale":{"domain":["Experimental data","Fitting data@rise"," ","Fitting data@fall"],"range":["#1515E6","#3EE5E5","transparent","#000000"]},"legend":{"title":null,"columns":2,"encode":{"symbols":{"update":{"shape":{"signal":"datum.value === 'Experimental data' ? 'M-2.75,0H-2.1M-1.75,0H-1.1M1.1,0H1.75M2.1,0H2.75M0.9,0A0.9,0.9,0,1,1,-0.9,0A0.9,0.9,0,1,1,0.9,0Z' : 'M-2.75,0H2.75'"}}}}}}}},
  {"data":{"name":"exp"},"transform":[{"filter":"datum.p=='b'"}],"mark":{"type":"point"},"encoding":{"color":{"datum":"Experimental data"}}},
  {"data":{"name":"fit"},"transform":[{"filter":"datum.p=='b'"}],"mark":{"type":"line"},"encoding":{"color":{"field":"s","type":"nominal","title":null}}},
  {"data":{"name":"ann"},"transform":[{"filter":"datum.p=='b'"}],"layer":[
   {"mark":{"type":"text","fontSize":16},"encoding":{"text":{"field":"l1","type":"nominal"}}},
   {"mark":{"type":"text","fontSize":16,"dy":23},"encoding":{"text":{"field":"l2","type":"nominal"}}},
   {"mark":{"type":"text","fontSize":16,"dy":46},"encoding":{"text":{"field":"l3","type":"nominal"}}},
   {"mark":{"type":"text","fontSize":10,"dx":7,"dy":31},"encoding":{"text":{"value":"r"}}},
   {"mark":{"type":"text","fontSize":10,"dx":7,"dy":54},"encoding":{"text":{"value":"d"}}}]}
 ]},
{"title":"(c)","width":178,"height":366,
 "encoding":{"x":{"field":"t","type":"quantitative","scale":{"domain":[-0.2,14.8],"nice":false,"zero":false},"axis":{"values":[0,2,4,6,8,10,12,14],"title":"Time (s)"}},"y":{"field":"v","type":"quantitative","scale":{"domain":[-755,65],"nice":false,"zero":false},"axis":{"values":[0,-300,-600],"title":"Current (nA)"}}},
 "layer":[
  {"data":{"name":"exp"},"transform":[{"filter":"datum.p=='c'"}],"mark":{"type":"line","strokeWidth":2},"encoding":{"color":{"datum":"Experimental data","scale":{"domain":["Experimental data","Fitting data@rise"," ","Fitting data@fall"],"range":["#45BE8A","#3EE5E5","transparent","#000000"]},"legend":{"title":null,"columns":2,"encode":{"symbols":{"update":{"shape":{"signal":"datum.value === 'Experimental data' ? 'M-2.75,0H-2.1M-1.75,0H-1.1M1.1,0H1.75M2.1,0H2.75M0.9,0A0.9,0.9,0,1,1,-0.9,0A0.9,0.9,0,1,1,0.9,0Z' : 'M-2.75,0H2.75'"}}}}}}}},
  {"data":{"name":"exp"},"transform":[{"filter":"datum.p=='c'"}],"mark":{"type":"point"},"encoding":{"color":{"datum":"Experimental data"}}},
  {"data":{"name":"fit"},"transform":[{"filter":"datum.p=='c'"}],"mark":{"type":"line"},"encoding":{"color":{"field":"s","type":"nominal","title":null}}},
  {"data":{"name":"ann"},"transform":[{"filter":"datum.p=='c'"}],"layer":[
   {"mark":{"type":"text","fontSize":16},"encoding":{"text":{"field":"l1","type":"nominal"}}},
   {"mark":{"type":"text","fontSize":16,"dy":23},"encoding":{"text":{"field":"l2","type":"nominal"}}},
   {"mark":{"type":"text","fontSize":16,"dy":46},"encoding":{"text":{"field":"l3","type":"nominal"}}},
   {"mark":{"type":"text","fontSize":10,"dx":7,"dy":31},"encoding":{"text":{"value":"r"}}},
   {"mark":{"type":"text","fontSize":10,"dx":7,"dy":54},"encoding":{"text":{"value":"d"}}}]}
 ]},
{"title":"(d)","width":178,"height":366,
 "encoding":{"x":{"field":"t","type":"quantitative","scale":{"domain":[-0.2,14.8],"nice":false,"zero":false},"axis":{"values":[0,2,4,6,8,10,12,14],"title":"Time (s)"}},"y":{"field":"v","type":"quantitative","scale":{"domain":[-705,60],"nice":false,"zero":false},"axis":{"values":[0,-300,-600],"title":"Current (nA)"}}},
 "layer":[
  {"data":{"name":"exp"},"transform":[{"filter":"datum.p=='d'"}],"mark":{"type":"line","strokeWidth":2},"encoding":{"color":{"datum":"Experimental data","scale":{"domain":["Experimental data","Fitting data@rise"," ","Fitting data@fall"],"range":["#3AE03A","#3EE5E5","transparent","#000000"]},"legend":{"title":null,"columns":2,"encode":{"symbols":{"update":{"shape":{"signal":"datum.value === 'Experimental data' ? 'M-2.75,0H-2.1M-1.75,0H-1.1M1.1,0H1.75M2.1,0H2.75M0.9,0A0.9,0.9,0,1,1,-0.9,0A0.9,0.9,0,1,1,0.9,0Z' : 'M-2.75,0H2.75'"}}}}}}}},
  {"data":{"name":"exp"},"transform":[{"filter":"datum.p=='d'"}],"mark":{"type":"point"},"encoding":{"color":{"datum":"Experimental data"}}},
  {"data":{"name":"fit"},"transform":[{"filter":"datum.p=='d'"}],"mark":{"type":"line"},"encoding":{"color":{"field":"s","type":"nominal","title":null}}},
  {"data":{"name":"ann"},"transform":[{"filter":"datum.p=='d'"}],"layer":[
   {"mark":{"type":"text","fontSize":16},"encoding":{"text":{"field":"l1","type":"nominal"}}},
   {"mark":{"type":"text","fontSize":16,"dy":23},"encoding":{"text":{"field":"l2","type":"nominal"}}},
   {"mark":{"type":"text","fontSize":16,"dy":46},"encoding":{"text":{"field":"l3","type":"nominal"}}},
   {"mark":{"type":"text","fontSize":10,"dx":7,"dy":31},"encoding":{"text":{"value":"r"}}},
   {"mark":{"type":"text","fontSize":10,"dx":7,"dy":54},"encoding":{"text":{"value":"d"}}}]}
 ]},
{"title":"(e)","width":178,"height":366,
 "encoding":{"x":{"field":"t","type":"quantitative","scale":{"domain":[-0.2,14.8],"nice":false,"zero":false},"axis":{"values":[0,2,4,6,8,10,12,14],"title":"Time (s)"}},"y":{"field":"v","type":"quantitative","scale":{"domain":[-453,48],"nice":false,"zero":false},"axis":{"values":[0,-200,-400],"title":"Current (nA)"}}},
 "layer":[
  {"data":{"name":"exp"},"transform":[{"filter":"datum.p=='e'"}],"mark":{"type":"line","strokeWidth":2},"encoding":{"color":{"datum":"Experimental data","scale":{"domain":["Experimental data","Fitting data@rise"," ","Fitting data@fall"],"range":["#1F7F1F","#3EE5E5","transparent","#000000"]},"legend":{"title":null,"columns":2,"encode":{"symbols":{"update":{"shape":{"signal":"datum.value === 'Experimental data' ? 'M-2.75,0H-2.1M-1.75,0H-1.1M1.1,0H1.75M2.1,0H2.75M0.9,0A0.9,0.9,0,1,1,-0.9,0A0.9,0.9,0,1,1,0.9,0Z' : 'M-2.75,0H2.75'"}}}}}}}},
  {"data":{"name":"exp"},"transform":[{"filter":"datum.p=='e'"}],"mark":{"type":"point"},"encoding":{"color":{"datum":"Experimental data"}}},
  {"data":{"name":"fit"},"transform":[{"filter":"datum.p=='e'"}],"mark":{"type":"line"},"encoding":{"color":{"field":"s","type":"nominal","title":null}}},
  {"data":{"name":"ann"},"transform":[{"filter":"datum.p=='e'"}],"layer":[
   {"mark":{"type":"text","fontSize":16},"encoding":{"text":{"field":"l1","type":"nominal"}}},
   {"mark":{"type":"text","fontSize":16,"dy":23},"encoding":{"text":{"field":"l2","type":"nominal"}}},
   {"mark":{"type":"text","fontSize":16,"dy":46},"encoding":{"text":{"field":"l3","type":"nominal"}}},
   {"mark":{"type":"text","fontSize":10,"dx":7,"dy":31},"encoding":{"text":{"value":"r"}}},
   {"mark":{"type":"text","fontSize":10,"dx":7,"dy":54},"encoding":{"text":{"value":"d"}}}]}
 ]},
{"title":"(f)","width":178,"height":366,
 "encoding":{"x":{"field":"t","type":"quantitative","scale":{"domain":[-0.2,14.8],"nice":false,"zero":false},"axis":{"values":[0,2,4,6,8,10,12,14],"title":"Time (s)"}},"y":{"field":"v","type":"quantitative","scale":{"domain":[-400,44],"nice":false,"zero":false},"axis":{"values":[0,-200,-400],"title":"Current (nA)"}}},
 "layer":[
  {"data":{"name":"exp"},"transform":[{"filter":"datum.p=='f'"}],"mark":{"type":"line","strokeWidth":2},"encoding":{"color":{"datum":"Experimental data","scale":{"domain":["Experimental data","Fitting data@rise","Fitting data@fall"],"range":["#F5901E","#3EE5E5","#000000"]},"legend":{"title":null,"columns":1,"encode":{"symbols":{"update":{"shape":{"signal":"datum.value === 'Experimental data' ? 'M-2.75,0H-2.1M-1.75,0H-1.1M1.1,0H1.75M2.1,0H2.75M0.9,0A0.9,0.9,0,1,1,-0.9,0A0.9,0.9,0,1,1,0.9,0Z' : 'M-2.75,0H2.75'"}}}}}}}},
  {"data":{"name":"exp"},"transform":[{"filter":"datum.p=='f'"}],"mark":{"type":"point"},"encoding":{"color":{"datum":"Experimental data"}}},
  {"data":{"name":"fit"},"transform":[{"filter":"datum.p=='f'"}],"mark":{"type":"line"},"encoding":{"color":{"field":"s","type":"nominal","title":null}}},
  {"data":{"name":"ann"},"transform":[{"filter":"datum.p=='f'"}],"layer":[
   {"mark":{"type":"text","fontSize":16},"encoding":{"text":{"field":"l1","type":"nominal"}}},
   {"mark":{"type":"text","fontSize":16,"dy":23},"encoding":{"text":{"field":"l2","type":"nominal"}}},
   {"mark":{"type":"text","fontSize":16,"dy":46},"encoding":{"text":{"field":"l3","type":"nominal"}}},
   {"mark":{"type":"text","fontSize":10,"dx":7,"dy":31},"encoding":{"text":{"value":"r"}}},
   {"mark":{"type":"text","fontSize":10,"dx":7,"dy":54},"encoding":{"text":{"value":"d"}}}]}
 ]},
{"title":"(g)","width":178,"height":366,
 "encoding":{"x":{"field":"t","type":"quantitative","scale":{"domain":[-0.2,14.8],"nice":false,"zero":false},"axis":{"values":[0,2,4,6,8,10,12,14],"title":"Time (s)"}},"y":{"field":"v","type":"quantitative","scale":{"domain":[-1403,139],"nice":false,"zero":false},"axis":{"values":[0,-600,-1200],"title":"Current (nA)"}}},
 "layer":[
  {"data":{"name":"exp"},"transform":[{"filter":"datum.p=='g'"}],"mark":{"type":"line","strokeWidth":2},"encoding":{"color":{"datum":"Experimental data","scale":{"domain":["Experimental data","Fitting data@rise","Fitting data@fall"],"range":["#E8187C","#3EE5E5","#000000"]},"legend":{"title":null,"columns":1,"encode":{"symbols":{"update":{"shape":{"signal":"datum.value === 'Experimental data' ? 'M-2.75,0H-2.1M-1.75,0H-1.1M1.1,0H1.75M2.1,0H2.75M0.9,0A0.9,0.9,0,1,1,-0.9,0A0.9,0.9,0,1,1,0.9,0Z' : 'M-2.75,0H2.75'"}}}}}}}},
  {"data":{"name":"exp"},"transform":[{"filter":"datum.p=='g'"}],"mark":{"type":"point"},"encoding":{"color":{"datum":"Experimental data"}}},
  {"data":{"name":"fit"},"transform":[{"filter":"datum.p=='g'"}],"mark":{"type":"line"},"encoding":{"color":{"field":"s","type":"nominal","title":null}}},
  {"data":{"name":"ann"},"transform":[{"filter":"datum.p=='g'"}],"layer":[
   {"mark":{"type":"text","fontSize":16},"encoding":{"text":{"field":"l1","type":"nominal"}}},
   {"mark":{"type":"text","fontSize":16,"dy":23},"encoding":{"text":{"field":"l2","type":"nominal"}}},
   {"mark":{"type":"text","fontSize":16,"dy":46},"encoding":{"text":{"field":"l3","type":"nominal"}}},
   {"mark":{"type":"text","fontSize":10,"dx":7,"dy":31},"encoding":{"text":{"value":"r"}}},
   {"mark":{"type":"text","fontSize":10,"dx":7,"dy":54},"encoding":{"text":{"value":"d"}}}]}
 ]},
{"title":"(h)","width":178,"height":366,
 "encoding":{"x":{"field":"t","type":"quantitative","scale":{"domain":[-0.2,14.8],"nice":false,"zero":false},"axis":{"values":[0,2,4,6,8,10,12,14],"title":"Time (s)"}},"y":{"field":"v","type":"quantitative","scale":{"domain":[-1508,145],"nice":false,"zero":false},"axis":{"values":[0,-600,-1200],"title":"Current (nA)"}}},
 "layer":[
  {"data":{"name":"exp"},"transform":[{"filter":"datum.p=='h'"}],"mark":{"type":"line","strokeWidth":2},"encoding":{"color":{"datum":"Experimental data","scale":{"domain":["Experimental data","Fitting data@rise"," ","Fitting data@fall"],"range":["#F020F0","#3EE5E5","transparent","#000000"]},"legend":{"title":null,"columns":2,"encode":{"symbols":{"update":{"shape":{"signal":"datum.value === 'Experimental data' ? 'M-2.75,0H-2.1M-1.75,0H-1.1M1.1,0H1.75M2.1,0H2.75M0.9,0A0.9,0.9,0,1,1,-0.9,0A0.9,0.9,0,1,1,0.9,0Z' : 'M-2.75,0H2.75'"}}}}}}}},
  {"data":{"name":"exp"},"transform":[{"filter":"datum.p=='h'"}],"mark":{"type":"point"},"encoding":{"color":{"datum":"Experimental data"}}},
  {"data":{"name":"fit"},"transform":[{"filter":"datum.p=='h'"}],"mark":{"type":"line"},"encoding":{"color":{"field":"s","type":"nominal","title":null}}},
  {"data":{"name":"ann"},"transform":[{"filter":"datum.p=='h'"}],"layer":[
   {"mark":{"type":"text","fontSize":16},"encoding":{"text":{"field":"l1","type":"nominal"}}},
   {"mark":{"type":"text","fontSize":16,"dy":23},"encoding":{"text":{"field":"l2","type":"nominal"}}},
   {"mark":{"type":"text","fontSize":16,"dy":46},"encoding":{"text":{"field":"l3","type":"nominal"}}},
   {"mark":{"type":"text","fontSize":10,"dx":7,"dy":31},"encoding":{"text":{"value":"r"}}},
   {"mark":{"type":"text","fontSize":10,"dx":7,"dy":54},"encoding":{"text":{"value":"d"}}}]}
 ]},
{"title":"(i)","width":178,"height":366,
 "encoding":{"x":{"field":"t","type":"quantitative","scale":{"domain":[-0.2,14.8],"nice":false,"zero":false},"axis":{"values":[0,2,4,6,8,10,12,14],"title":"Time (s)"}},"y":{"field":"v","type":"quantitative","scale":{"domain":[-1404,112],"nice":false,"zero":false},"axis":{"values":[0,-600,-1200],"title":"Current (nA)"}}},
 "layer":[
  {"data":{"name":"exp"},"transform":[{"filter":"datum.p=='i'"}],"mark":{"type":"line","strokeWidth":2},"encoding":{"color":{"datum":"Experimental data","scale":{"domain":["Experimental data","Fitting data@rise"," ","Fitting data@fall"],"range":["#EE1515","#3EE5E5","transparent","#000000"]},"legend":{"title":null,"columns":2,"encode":{"symbols":{"update":{"shape":{"signal":"datum.value === 'Experimental data' ? 'M-2.75,0H-2.1M-1.75,0H-1.1M1.1,0H1.75M2.1,0H2.75M0.9,0A0.9,0.9,0,1,1,-0.9,0A0.9,0.9,0,1,1,0.9,0Z' : 'M-2.75,0H2.75'"}}}}}}}},
  {"data":{"name":"exp"},"transform":[{"filter":"datum.p=='i'"}],"mark":{"type":"point"},"encoding":{"color":{"datum":"Experimental data"}}},
  {"data":{"name":"fit"},"transform":[{"filter":"datum.p=='i'"}],"mark":{"type":"line"},"encoding":{"color":{"field":"s","type":"nominal","title":null}}},
  {"data":{"name":"ann"},"transform":[{"filter":"datum.p=='i'"}],"layer":[
   {"mark":{"type":"text","fontSize":16},"encoding":{"text":{"field":"l1","type":"nominal"}}},
   {"mark":{"type":"text","fontSize":16,"dy":23},"encoding":{"text":{"field":"l2","type":"nominal"}}},
   {"mark":{"type":"text","fontSize":16,"dy":46},"encoding":{"text":{"field":"l3","type":"nominal"}}},
   {"mark":{"type":"text","fontSize":10,"dx":7,"dy":31},"encoding":{"text":{"value":"r"}}},
   {"mark":{"type":"text","fontSize":10,"dx":7,"dy":54},"encoding":{"text":{"value":"d"}}}]}
 ]},
{"title":"(j)","width":178,"height":366,
 "encoding":{"x":{"field":"t","type":"quantitative","scale":{"domain":[-0.2,14.8],"nice":false,"zero":false},"axis":{"values":[0,2,4,6,8,10,12,14],"title":"Time (s)"}},"y":{"field":"v","type":"quantitative","scale":{"domain":[-2513,241],"nice":false,"zero":false},"axis":{"values":[0,-1000,-2000],"title":"Current (nA)"}}},
 "layer":[
  {"data":{"name":"exp"},"transform":[{"filter":"datum.p=='j'"}],"mark":{"type":"line","strokeWidth":2},"encoding":{"color":{"datum":"Experimental data","scale":{"domain":["Experimental data","Fitting data@rise"," ","Fitting data@fall"],"range":["#D4965A","#3EE5E5","transparent","#000000"]},"legend":{"title":null,"columns":2,"encode":{"symbols":{"update":{"shape":{"signal":"datum.value === 'Experimental data' ? 'M-2.75,0H-2.1M-1.75,0H-1.1M1.1,0H1.75M2.1,0H2.75M0.9,0A0.9,0.9,0,1,1,-0.9,0A0.9,0.9,0,1,1,0.9,0Z' : 'M-2.75,0H2.75'"}}}}}}}},
  {"data":{"name":"exp"},"transform":[{"filter":"datum.p=='j'"}],"mark":{"type":"point"},"encoding":{"color":{"datum":"Experimental data"}}},
  {"data":{"name":"fit"},"transform":[{"filter":"datum.p=='j'"}],"mark":{"type":"line"},"encoding":{"color":{"field":"s","type":"nominal","title":null}}},
  {"data":{"name":"ann"},"transform":[{"filter":"datum.p=='j'"}],"layer":[
   {"mark":{"type":"text","fontSize":16},"encoding":{"text":{"field":"l1","type":"nominal"}}},
   {"mark":{"type":"text","fontSize":16,"dy":23},"encoding":{"text":{"field":"l2","type":"nominal"}}},
   {"mark":{"type":"text","fontSize":16,"dy":46},"encoding":{"text":{"field":"l3","type":"nominal"}}},
   {"mark":{"type":"text","fontSize":10,"dx":7,"dy":31},"encoding":{"text":{"value":"r"}}},
   {"mark":{"type":"text","fontSize":10,"dx":7,"dy":54},"encoding":{"text":{"value":"d"}}}]}
 ]}
]
}
